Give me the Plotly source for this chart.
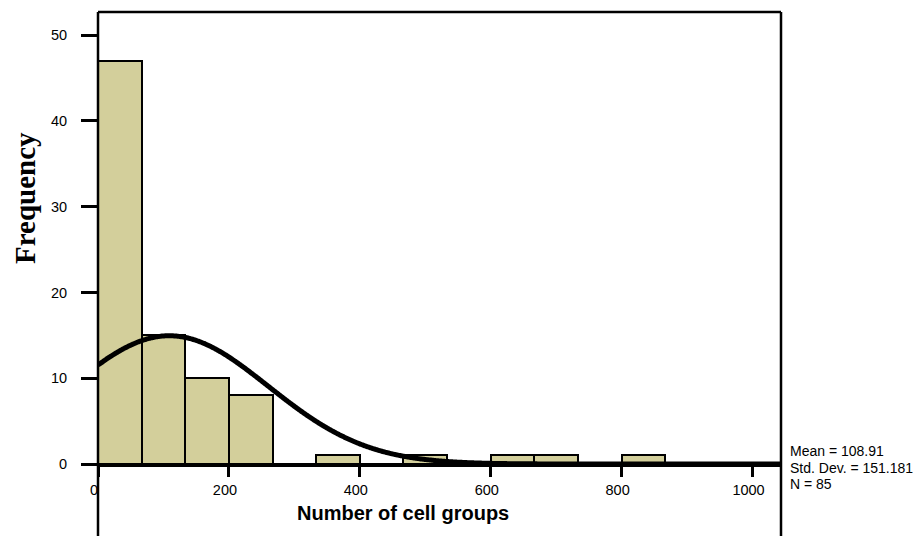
import numpy as np
import plotly.graph_objects as go

# Histogram data
bin_edges = [0, 66.667, 133.333, 200, 266.667, 333.333, 400, 466.667, 533.333,
             600, 666.667, 733.333, 800, 866.667]
counts = [47, 15, 10, 8, 0, 1, 0, 1, 0, 1, 1, 0, 1]
x_ticks = [0, 200, 400, 600, 800, 1000]
y_ticks = [0, 10, 20, 30, 40, 50]

# Summary statistics (used for fitted normal curve)
mean = 108.91
std_dev = 151.181
n_obs = 85
stats_lines = [f"Mean = {mean}", f"Std. Dev. = {std_dev}", f"N = {n_obs}"]

edges = np.array(bin_edges)
centers = (edges[:-1] + edges[1:]) / 2
widths = edges[1:] - edges[:-1]
bw = widths.mean()

xr = [0, 1043.5]
yr = [0, 52.7]

xc = np.linspace(0, xr[1], 600)
yc = n_obs * bw / (std_dev * np.sqrt(2 * np.pi)) * np.exp(-0.5 * ((xc - mean) / std_dev) ** 2)

# page body has an 8px margin: compensate
W, H = 914, 528
L, T = 90, 4
PW, PH = 683, 452

fig = go.Figure()
fig.add_trace(go.Bar(
    x=centers, y=counts, width=widths,
    marker=dict(color="#D3CF9B", line=dict(color="black", width=2)),
    hoverinfo="x+y", showlegend=False,
))
fig.add_trace(go.Scatter(
    x=xc, y=yc, mode="lines", line=dict(color="black", width=5, shape="spline"),
    showlegend=False, cliponaxis=False,
))

fig.update_layout(
    width=W, height=H,
    margin=dict(l=L, r=W - L - PW, t=T, b=H - T - PH, pad=0),
    paper_bgcolor="white", plot_bgcolor="white",
    bargap=0,
    font=dict(family="Liberation Sans, Arial, sans-serif", size=14.5, color="black"),
)
fig.update_xaxes(
    range=xr, tickvals=x_ticks, ticktext=[str(v) for v in x_ticks],
    showgrid=False, zeroline=False,
    showline=True, linecolor="black", linewidth=2.5,
    ticks="outside", ticklen=10, tickwidth=2.5, tickcolor="black",
    tickfont=dict(size=14.5), ticklabelstandoff=1, ticklabelshift=-4,
)
fig.update_yaxes(
    range=yr, tickvals=y_ticks,
    showgrid=False, zeroline=False, showline=False,
    ticks="outside", ticklen=16, tickwidth=3, tickcolor="black",
    tickfont=dict(size=14.5), ticklabelstandoff=11,
)

# Frame lines
frame = dict(color="black", width=2.5)
ybot = -(H - T - PH) / PH
fig.add_shape(type="line", xref="paper", yref="paper", x0=0, x1=0, y0=ybot, y1=1, line=frame)
fig.add_shape(type="line", xref="paper", yref="paper", x0=1, x1=1, y0=ybot, y1=1, line=frame)
fig.add_shape(type="line", xref="paper", yref="paper", x0=0, x1=1, y0=1, y1=1, line=frame)

# Axis titles (positions in reference-screen pixels, converted)
def px(xs):
    return (xs - 8 - L) / PW

def py(ys):
    return (T + PH - (ys - 8)) / PH

fig.add_annotation(
    text="<b>Frequency</b>", textangle=-90, xref="paper", yref="paper",
    x=px(25), y=py(198), showarrow=False,
    xanchor="center", yanchor="middle",
    font=dict(family="Liberation Serif, Times New Roman, serif", size=29, color="black"),
)
fig.add_annotation(
    text="<b>Number of cell groups</b>", xref="paper", yref="paper",
    x=px(403), y=py(513), showarrow=False,
    xanchor="center", yanchor="middle",
    font=dict(family="Liberation Sans, Arial, sans-serif", size=20, color="black"),
)

# Stats box
for i, line in enumerate(stats_lines):
    fig.add_annotation(
        text=line, xref="paper", yref="paper", x=px(789), y=py(451 + 16.5 * i),
        showarrow=False, xanchor="left", yanchor="middle", align="left",
        borderpad=0,
        font=dict(family="Liberation Sans, Arial, sans-serif", size=14, color="black"),
    )

fig.write_html("out.html")
